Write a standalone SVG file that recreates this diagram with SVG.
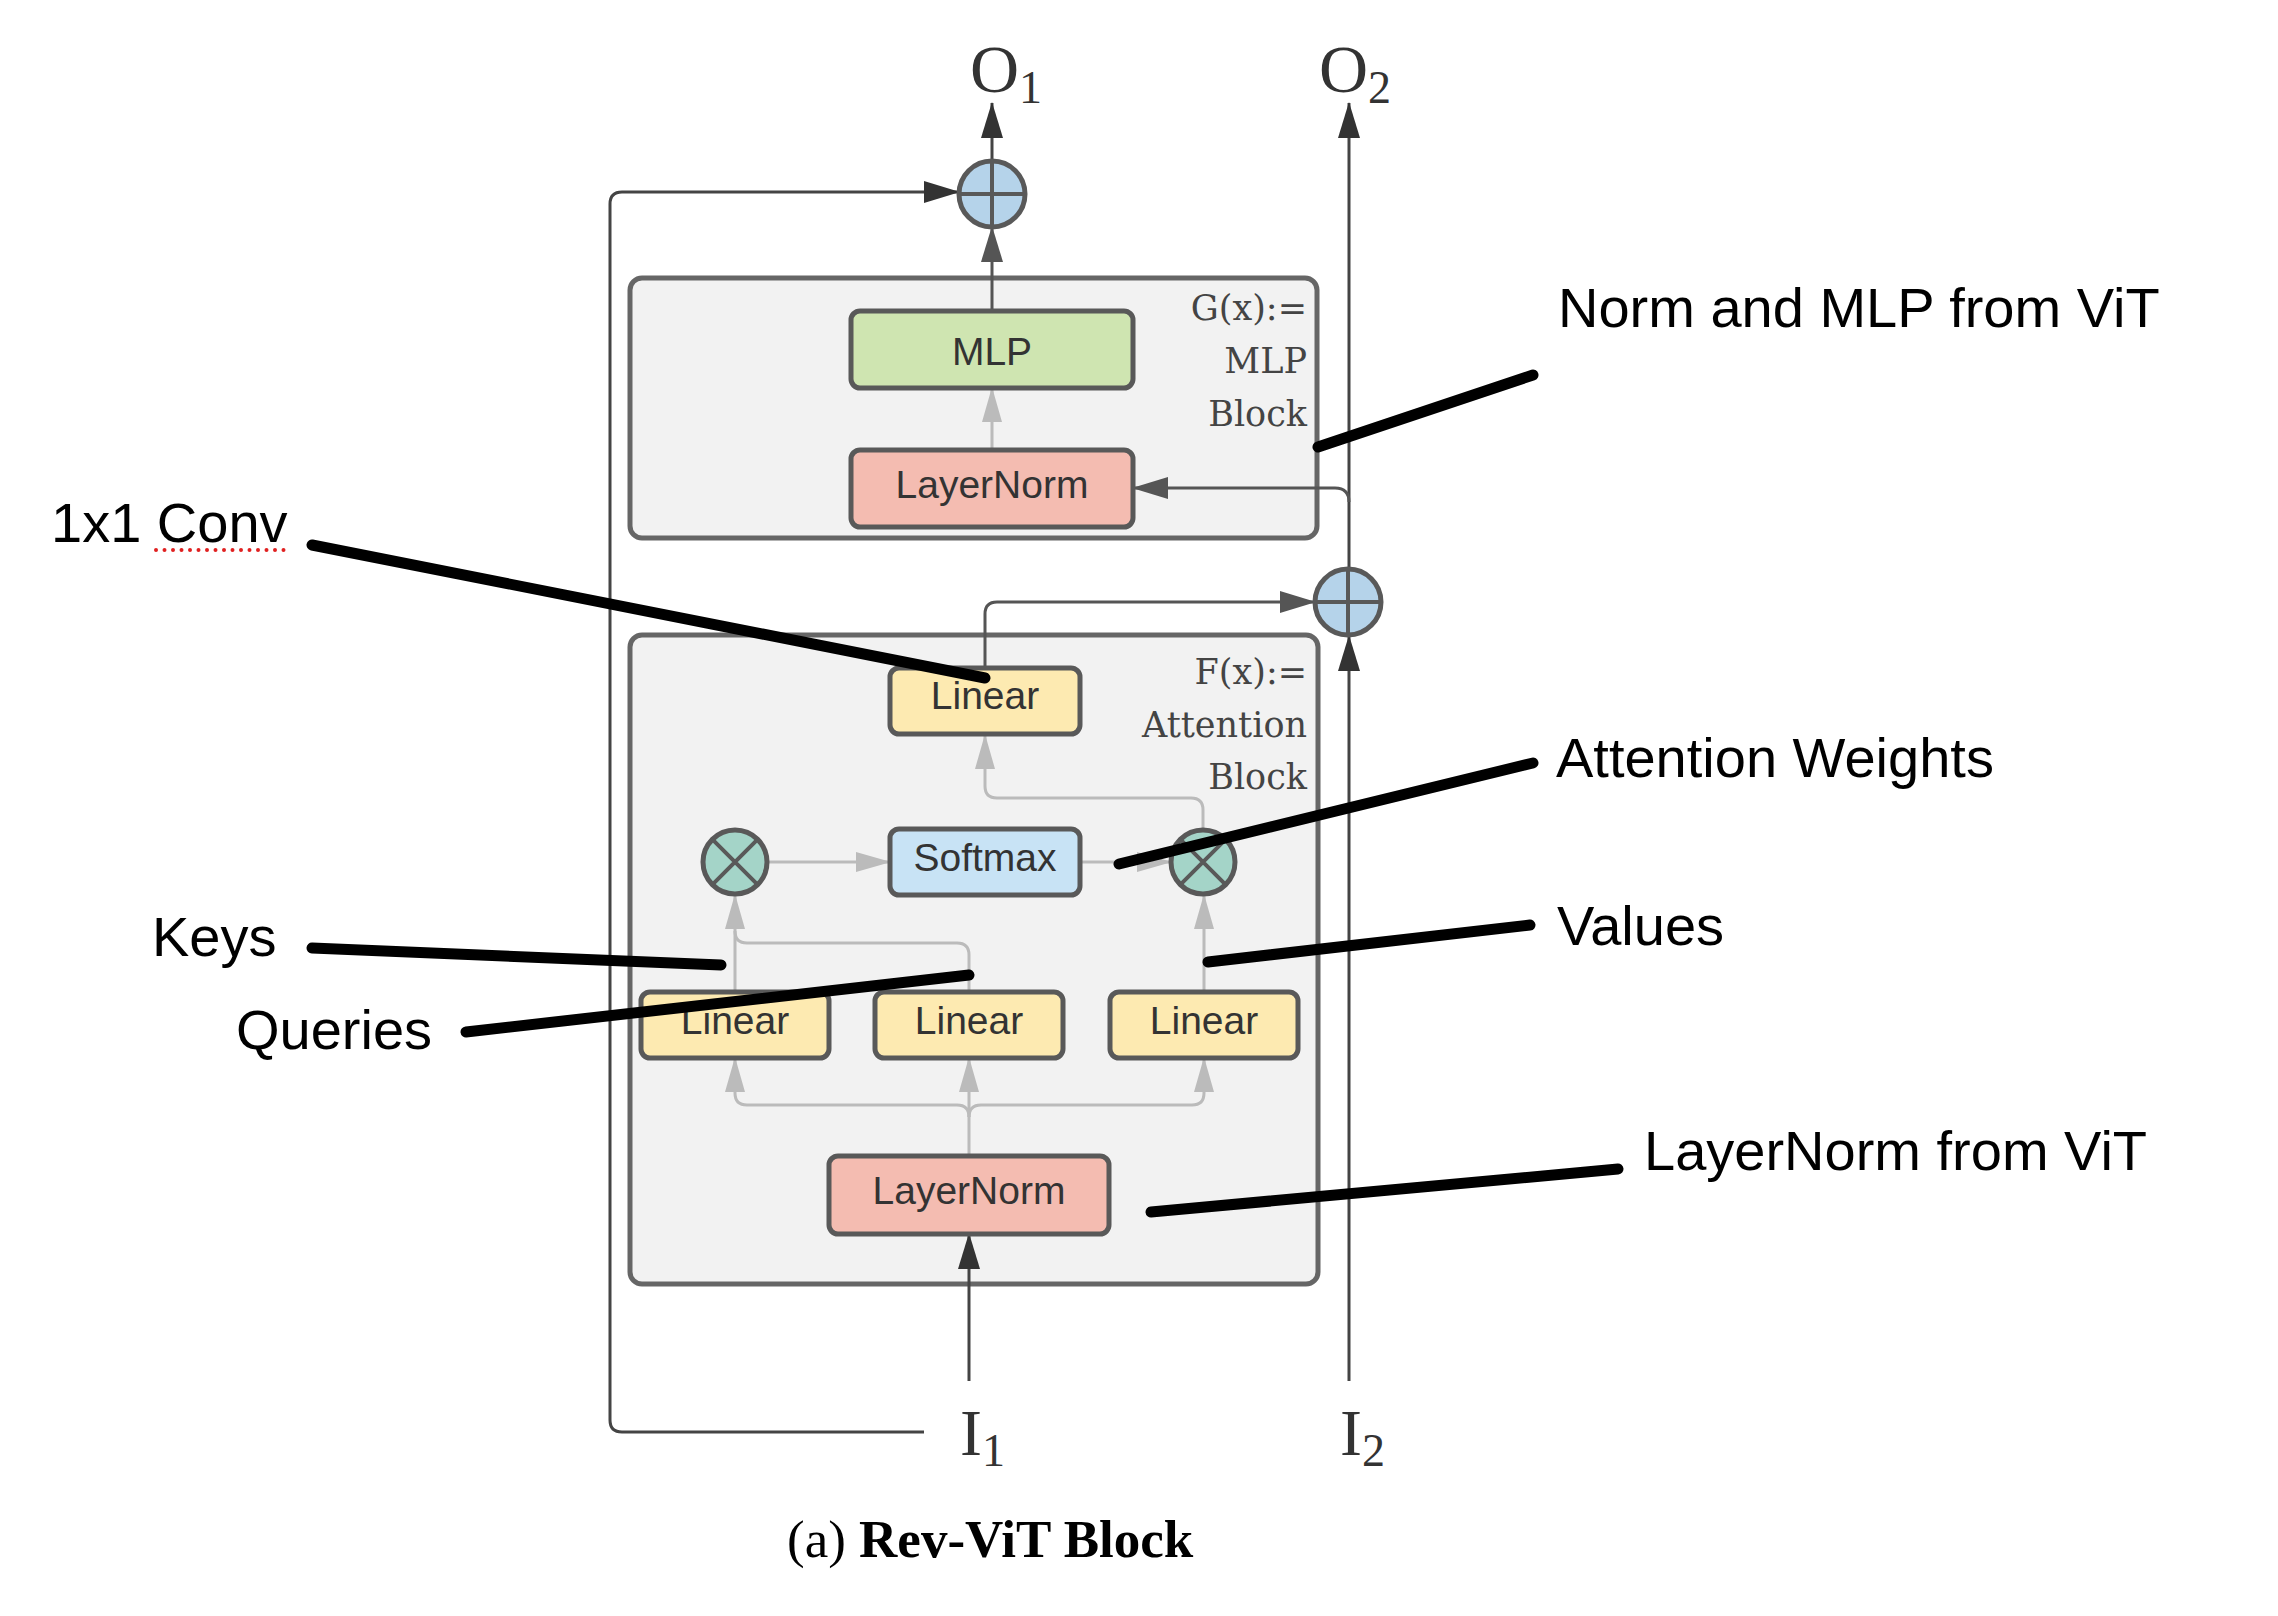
<svg xmlns="http://www.w3.org/2000/svg" width="2278" height="1616" viewBox="0 0 2278 1616">
<style>
.blk{fill:#f2f2f2;stroke:#666;stroke-width:5}
.nd{stroke:#595959;stroke-width:5}
.lin{fill:#fdeab1}
.ln{fill:#f4bcb1}
.mlp{fill:#cfe5b1}
.sm{fill:#c8e3f5}
.ntx{font-family:"Liberation Sans",Arial,sans-serif;font-size:39px;fill:#333;text-anchor:middle}
.btx{font-family:"DejaVu Serif",serif;font-size:35px;fill:#444;text-anchor:end}
.math{font-family:"Liberation Serif","Times New Roman",serif;fill:#333}
.cap{font-family:"Liberation Serif","Times New Roman",serif;fill:#000}
.dk{fill:none;stroke:#444;stroke-width:3}
.gy{fill:none;stroke:#555;stroke-width:3}
.lt{fill:none;stroke:#bbb;stroke-width:3}
.plus{fill:#b5d3ea;stroke:#595959;stroke-width:5}
.mul{fill:#a4d4c8;stroke:#595959;stroke-width:5}
.sym{stroke:#595959;stroke-width:4}
.co{stroke:#000;stroke-width:11;stroke-linecap:round}
.ctx{font-family:"Liberation Sans",Arial,sans-serif;font-size:56px;fill:#000}
</style>
<defs>
<marker id="aDk" markerUnits="userSpaceOnUse" markerWidth="36" markerHeight="22" refX="35" refY="11" orient="auto"><path d="M0,0 L36,11 L0,22 z" fill="#333"/></marker>
<marker id="aGy" markerUnits="userSpaceOnUse" markerWidth="36" markerHeight="22" refX="35" refY="11" orient="auto"><path d="M0,0 L36,11 L0,22 z" fill="#555"/></marker>
<marker id="aLt" markerUnits="userSpaceOnUse" markerWidth="35" markerHeight="20" refX="34" refY="10" orient="auto"><path d="M0,0 L35,10 L0,20 z" fill="#bbb"/></marker>
</defs>

<g id="blockG"><rect class="blk" x="630" y="278" width="687" height="260" rx="12"/>
<text class="btx" x="1307" y="320">G(x):=</text><text class="btx" x="1307" y="373">MLP</text><text class="btx" x="1307" y="426">Block</text></g>
<g id="blockF"><rect class="blk" x="630" y="635" width="688" height="649" rx="12"/>
<text class="btx" x="1307" y="684">F(x):=</text><text class="btx" x="1307" y="737">Attention</text><text class="btx" x="1307" y="789">Block</text></g>

<g id="connectors">
<path class="dk" d="M924 1432 L622 1432 Q610 1432 610 1420 L610 204 Q610 192 622 192 L959 192" marker-end="url(#aDk)"/>
<path class="dk" d="M969 1381 L969 1234" marker-end="url(#aDk)"/>
<path class="dk" d="M1349 1381 L1349 636" marker-end="url(#aDk)"/>
<path class="dk" d="M1349 569 L1349 103" marker-end="url(#aDk)"/>
<path class="dk" d="M992 161 L992 103" marker-end="url(#aDk)"/>
<path class="gy" d="M1349 502 Q1349 488 1335 488 L1133 488" marker-end="url(#aGy)"/>
<path class="gy" d="M985 668 L985 614 Q985 602 997 602 L1315 602" marker-end="url(#aGy)"/>
<path class="gy" d="M992 311 L992 227" marker-end="url(#aGy)"/>
<path class="lt" d="M992 450 L992 388" marker-end="url(#aLt)"/>
<path class="lt" d="M767 862 L890 862" marker-end="url(#aLt)"/>
<path class="lt" d="M1080 862 L1171 862" marker-end="url(#aLt)"/>
<path class="lt" d="M1203 829 L1203 810 Q1203 798 1191 798 L997 798 Q985 798 985 786 L985 735" marker-end="url(#aLt)"/>
<path class="lt" d="M735 992 L735 895" marker-end="url(#aLt)"/>
<path class="lt" d="M969 992 L969 955 Q969 943 957 943 L747 943 Q735 943 735 931"/>
<path class="lt" d="M1204 992 L1204 895" marker-end="url(#aLt)"/>
<path class="lt" d="M969 1156 L969 1058" marker-end="url(#aLt)"/>
<path class="lt" d="M969 1117 Q969 1105 957 1105 L747 1105 Q735 1105 735 1093 L735 1058" marker-end="url(#aLt)"/>
<path class="lt" d="M969 1117 Q969 1105 981 1105 L1192 1105 Q1204 1105 1204 1093 L1204 1058" marker-end="url(#aLt)"/>
</g>

<g id="plus1"><circle class="plus" cx="992" cy="194" r="33"/><path class="sym" d="M959 194 H1025 M992 161 V227"/></g>
<g id="plus2"><circle class="plus" cx="1348" cy="602" r="33"/><path class="sym" d="M1315 602 H1381 M1348 569 V635"/></g>
<g id="mulL"><circle class="mul" cx="735" cy="862" r="32"/><path class="sym" d="M712.4 839.4 L757.6 884.6 M757.6 839.4 L712.4 884.6"/></g>
<g id="mulR"><circle class="mul" cx="1203" cy="862" r="32"/><path class="sym" d="M1180.4 839.4 L1225.6 884.6 M1225.6 839.4 L1180.4 884.6"/></g>

<g id="mlp"><rect class="nd mlp" x="851" y="311" width="282" height="77" rx="9"/><text class="ntx" x="992" y="365">MLP</text></g>
<g id="layernormG"><rect class="nd ln" x="851" y="450" width="282" height="77" rx="9"/><text class="ntx" x="992" y="498">LayerNorm</text></g>
<g id="linearTop"><rect class="nd lin" x="890" y="668" width="190" height="66" rx="9"/><text class="ntx" x="985" y="709">Linear</text></g>
<g id="softmax"><rect class="nd sm" x="890" y="829" width="190" height="66" rx="9"/><text class="ntx" x="985" y="871">Softmax</text></g>
<g id="linearL"><rect class="nd lin" x="641" y="992" width="188" height="66" rx="9"/><text class="ntx" x="735" y="1034">Linear</text></g>
<g id="linearM"><rect class="nd lin" x="875" y="992" width="188" height="66" rx="9"/><text class="ntx" x="969" y="1034">Linear</text></g>
<g id="linearR"><rect class="nd lin" x="1110" y="992" width="188" height="66" rx="9"/><text class="ntx" x="1204" y="1034">Linear</text></g>
<g id="layernormF"><rect class="nd ln" x="829" y="1156" width="280" height="78" rx="9"/><text class="ntx" x="969" y="1204">LayerNorm</text></g>

<g id="io">
<text class="math" x="970" y="92" font-size="68">O<tspan font-size="46" dy="11">1</tspan></text>
<text class="math" x="1319" y="92" font-size="68">O<tspan font-size="46" dy="11">2</tspan></text>
<text class="math" x="960" y="1455" font-size="66">I<tspan font-size="46" dy="11">1</tspan></text>
<text class="math" x="1340" y="1455" font-size="66">I<tspan font-size="46" dy="11">2</tspan></text>
</g>

<g id="callouts">
<line class="co" x1="1533" y1="375" x2="1318" y2="447"/>
<line class="co" x1="312" y1="545" x2="985" y2="678"/>
<line class="co" x1="1533" y1="763" x2="1119" y2="864"/>
<line class="co" x1="312" y1="948" x2="721" y2="965"/>
<line class="co" x1="466" y1="1032" x2="969" y2="975"/>
<line class="co" x1="1530" y1="925" x2="1208" y2="962"/>
<line class="co" x1="1618" y1="1169" x2="1151" y2="1212"/>
<text class="ctx" x="1558" y="327">Norm and MLP from ViT</text>
<text class="ctx" x="51" y="542">1x1 Conv</text>
<line x1="156" y1="550" x2="284" y2="550" stroke="#e02020" stroke-width="4" stroke-linecap="round" stroke-dasharray="0 8.5"/>
<text class="ctx" x="1556" y="777">Attention Weights</text>
<text class="ctx" x="152" y="956">Keys</text>
<text class="ctx" x="236" y="1049">Queries</text>
<text class="ctx" x="1557" y="945">Values</text>
<text class="ctx" x="1644" y="1170">LayerNorm from ViT</text>
</g>

<g id="caption"><text class="cap" x="787" y="1557" font-size="53">(a) <tspan font-weight="bold">Rev-ViT Block</tspan></text></g>
</svg>
